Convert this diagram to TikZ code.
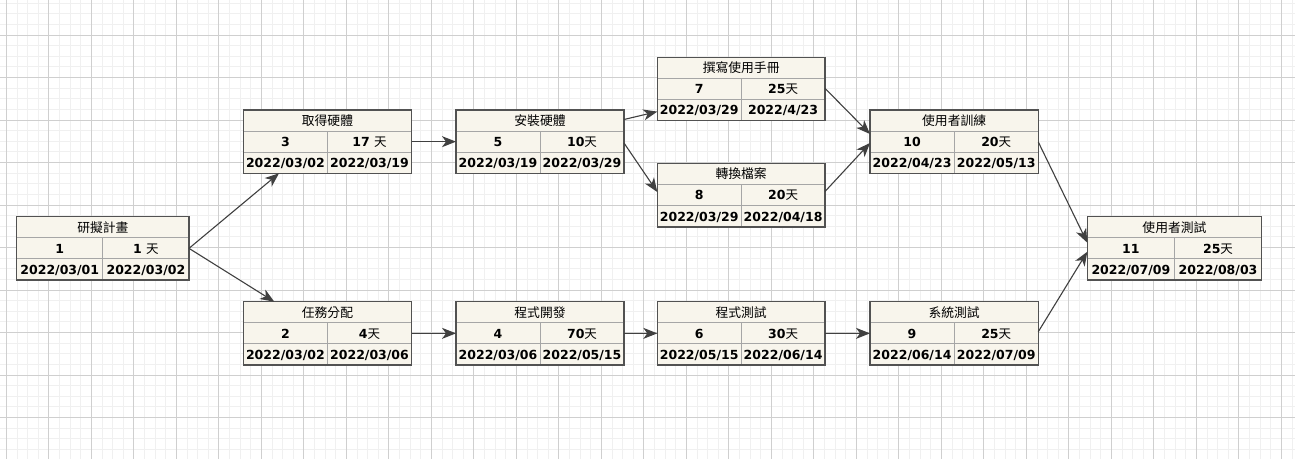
\documentclass[tikz,border=0pt]{standalone}
\usepackage{fontspec}
\setmainfont{DejaVu Sans}
\newfontfamily\cjk{Noto Sans CJK TC}
\usetikzlibrary{calc,arrows.meta}
\definecolor{actfill}{HTML}{F8F5EC}
\definecolor{actedge}{HTML}{525252}
\definecolor{actline}{HTML}{A6A6A6}
\definecolor{linkcol}{HTML}{404040}

\tikzset{
  gridminor/.style={draw=black!6, line width=0.8pt},
  gridmajor/.style={draw=black!19, line width=0.9pt},
  actframe/.style={fill=actfill, rectangle, inner sep=0pt, outer sep=0pt, minimum height=63.3pt},
  actborder/.style={draw=actedge, line width=1.5pt},
  actrule/.style={draw=actline, line width=0.9pt},
  acttext/.style={inner sep=0pt, text height=9.1pt, text depth=0pt, font=\fontsize{12.8}{15}\selectfont},
  actnum/.style={inner sep=0pt, text height=9.1pt, text depth=0pt, font=\fontsize{12.5}{15}\selectfont\bfseries},
  link/.style={draw=linkcol, line width=1.1pt, -{Stealth[length=14pt,width=11pt,inset=4pt]}},
}

\newcommand\dayunit{{\cjk\mdseries 天}}

% #1 name, #2 left, #3 top, #4 width, #5 title, #6 id, #7 duration, #8 start, #9 finish
\newcommand\actbox[9]{%
  \node[actframe, minimum width=#4pt, anchor=north west] (#1) at (#2,#3) {};
  \draw[actrule] ($(#1.north west)+(0,21.1)$) -- ($(#1.north east)+(0,21.1)$);
  \draw[actrule] ($(#1.north west)+(0,42.2)$) -- ($(#1.north east)+(0,42.2)$);
  \draw[actrule] ($(#1.north)+(0,21.1)$) -- (#1.south);
  \draw[actborder] (#1.north west) rectangle (#1.south east);
  \node[acttext] (#1-t) at ($(#1.north)+(0,10.9)$) {\cjk #5};
  \node[actnum] (#1-i) at ($(#1.north west)!0.25!(#1.north east)+(0,31.9)$) {#6};
  \node[actnum] (#1-d) at ($(#1.north west)!0.75!(#1.north east)+(0,31.9)$) {#7};
  \node[actnum] (#1-s) at ($(#1.north west)!0.25!(#1.north east)+(0,53)$) {#8};
  \node[actnum] (#1-f) at ($(#1.north west)!0.75!(#1.north east)+(0,53)$) {#9};
}

\begin{document}
\begin{tikzpicture}[x=1pt,y=-1pt]
  \useasboundingbox (0,0) rectangle (1295,459);
  \fill[white] (0,0) rectangle (1295,459);

  % background grid
  \foreach \k in {-1,...,122}
    \draw[gridminor] ({6.3+10.625*\k},0) -- ({6.3+10.625*\k},459);
  \foreach \k in {-4,...,40}
    \draw[gridminor] (0,{35+10.625*\k}) -- (1295,{35+10.625*\k});
  \foreach \k in {0,...,30}
    \draw[gridmajor] ({6.3+42.5*\k},0) -- ({6.3+42.5*\k},459);
  \foreach \k in {-1,...,10}
    \draw[gridmajor] (0,{35+42.5*\k}) -- (1295,{35+42.5*\k});

  % activities
  \actbox{n1}{16.7}{216.7}{172.3}{研擬計畫}{1}{1 \dayunit}{2022/03/01}{2022/03/02}
  \actbox{n3}{243.3}{110}{168.3}{取得硬體}{3}{17 \dayunit}{2022/03/02}{2022/03/19}
  \actbox{n2}{243.3}{301.7}{168.3}{任務分配}{2}{4\dayunit}{2022/03/02}{2022/03/06}
  \actbox{n5}{456}{110}{168}{安裝硬體}{5}{10\dayunit}{2022/03/19}{2022/03/29}
  \actbox{n4}{456}{301.7}{168}{程式開發}{4}{70\dayunit}{2022/03/06}{2022/05/15}
  \actbox{n7}{657.3}{57.3}{167.7}{撰寫使用手冊}{7}{25\dayunit}{2022/03/29}{2022/4/23}
  \actbox{n8}{657.3}{163.5}{167.7}{轉換檔案}{8}{20\dayunit}{2022/03/29}{2022/04/18}
  \actbox{n6}{657.3}{301.7}{167.7}{程式測試}{6}{30\dayunit}{2022/05/15}{2022/06/14}
  \actbox{n10}{870}{110}{168.3}{使用者訓練}{10}{20\dayunit}{2022/04/23}{2022/05/13}
  \actbox{n9}{870}{301.7}{168.3}{系統測試}{9}{25\dayunit}{2022/06/14}{2022/07/09}
  \actbox{n11}{1087.3}{216.7}{174.3}{使用者測試}{11}{25\dayunit}{2022/07/09}{2022/08/03}

  % dependencies
  \draw[link] (n1.east) -- ($(n3.south west)+(35.7,0)$);
  \draw[link] (n1.east) -- ($(n2.north west)+(31,0)$);
  \draw[link] (n3.east) -- (n5.west);
  \draw[link] (n2.east) -- (n4.west);
  \draw[link] (n4.east) -- (n6.west);
  \draw[link] (n6.east) -- (n9.west);
  \draw[link] ($(n5.north east)+(0,9.5)$) -- ($(n7.south west)+(0,-9)$);
  \draw[link] ($(n5.north east)+(0,33)$) -- ($(n8.north west)+(0,28.5)$);
  \draw[link] ($(n7.north east)+(0,31)$) -- ($(n10.north west)+(0,24)$);
  \draw[link] ($(n8.north east)+(0,28)$) -- ($(n10.north west)+(0,33)$);
  \draw[link] ($(n10.north east)+(0,32)$) -- ($(n11.north west)+(0,26)$);
  \draw[link] ($(n9.north east)+(0,30)$) -- ($(n11.north west)+(0,35)$);
\end{tikzpicture}
\end{document}
